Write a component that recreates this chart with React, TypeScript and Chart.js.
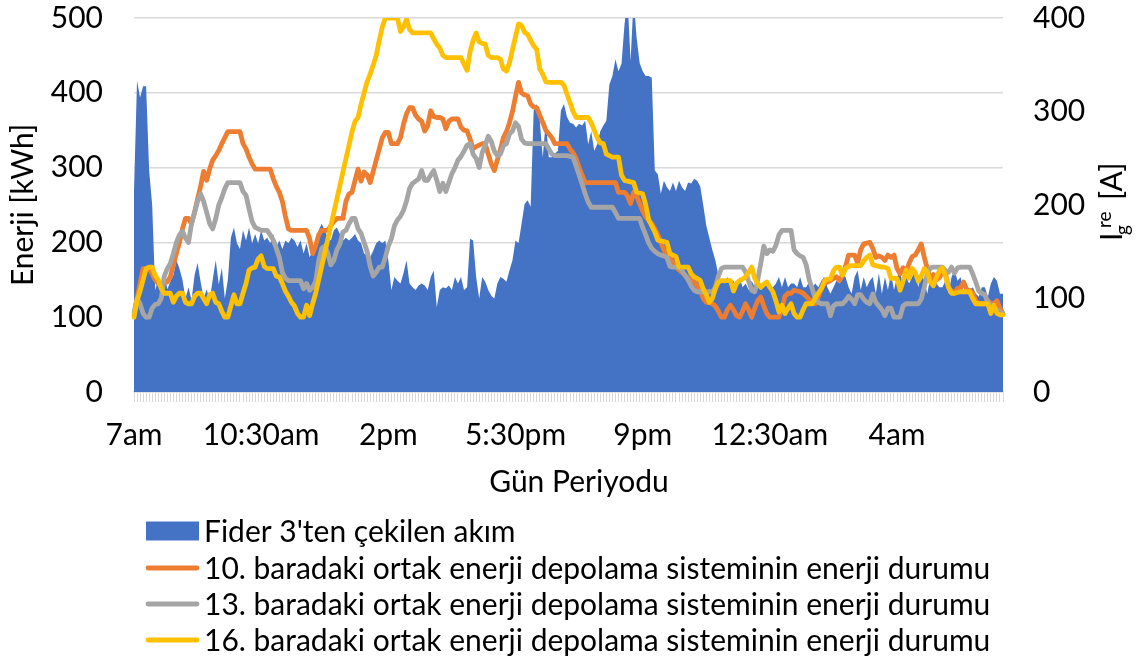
import React, { useEffect, useRef } from 'react';
import { Chart, registerables } from 'chart.js';

Chart.register(...registerables);

// 5-minute steps, 07:00 -> 06:55 next day
const CATEGORIES: string[] = Array.from({ length: 288 }, (_, i) => {
  const m = (7 * 60 + i * 5) % (24 * 60);
  const h = Math.floor(m / 60);
  const mm = m % 60;
  return `${h}:${mm < 10 ? '0' : ''}${mm}`;
});

const TICK_LABELS = ['7am', '10:30am', '2pm', '5:30pm', '9pm', '12:30am', '4am'];
const TICK_EVERY = 42;

const SERIES_NAMES = [
  "Fider 3'ten çekilen akım",
  '10. baradaki ortak enerji depolama sisteminin enerji durumu',
  '13. baradaki ortak enerji depolama sisteminin enerji durumu',
  '16. baradaki ortak enerji depolama sisteminin enerji durumu',
];

// Fider 3 current [A] (right axis)
const FEEDER_CURRENT = [
  215, 333, 315, 327, 327, 237, 200, 109, 120, 105, 128, 110,
  118, 125, 141, 132, 120, 100, 112, 98, 125, 138, 118, 100,
  110, 98, 120, 141, 115, 133, 100, 120, 165, 176, 159, 153,
  173, 162, 176, 159, 169, 159, 173, 162, 165, 159, 169, 155,
  162, 153, 162, 159, 165, 162, 155, 162, 148, 159, 144, 151,
  159, 173, 180, 173, 165, 162, 173, 176, 169, 162, 165, 162,
  165, 169, 162, 159, 148, 146, 144, 151, 159, 162, 159, 162,
  141, 109, 123, 119, 116, 127, 141, 116, 112, 109, 114, 116,
  114, 109, 123, 130, 91, 109, 112, 111, 114, 109, 123, 116,
  123, 109, 112, 164, 162, 123, 100, 123, 118, 109, 103, 100,
  116, 123, 121, 118, 130, 141, 162, 159, 180, 201, 205, 198,
  301, 308, 290, 251, 290, 251, 251, 255, 258, 301, 308, 294,
  288, 287, 283, 287, 285, 290, 265, 279, 258, 265, 279, 285,
  290, 329, 338, 356, 343, 351, 393, 420, 354, 420, 379, 352,
  343, 338, 338, 336, 237, 233, 212, 226, 219, 215, 224, 215,
  226, 219, 215, 224, 223, 228, 226, 220, 200, 178, 165, 152,
  141, 125, 118, 116, 123, 116, 119, 112, 123, 112, 116, 109,
  119, 112, 116, 109, 112, 119, 109, 112, 116, 123, 112, 123,
  112, 116, 116, 112, 123, 112, 112, 118, 112, 116, 112, 119,
  123, 112, 105, 112, 119, 116, 127, 123, 112, 105, 123, 130,
  109, 123, 112, 119, 123, 105, 127, 105, 123, 109, 127, 109,
  123, 130, 112, 123, 116, 123, 130, 112, 127, 119, 105, 123,
  127, 116, 112, 112, 119, 105, 123, 130, 119, 123, 105, 112,
  109, 112, 105, 102, 112, 112, 102, 116, 123, 119, 105, 105,
];

// Energy state of storage at bus 10 [kWh] (left axis)
const ESS_BUS10 = [
  103, 125, 145, 165, 165, 165, 158, 150, 145, 145, 147, 147,
  154, 170, 185, 200, 218, 232, 232, 225, 240, 258, 275, 295,
  283, 298, 310, 316, 323, 332, 340, 348, 348, 348, 348, 348,
  332, 325, 314, 305, 298, 298, 298, 298, 298, 298, 285, 275,
  267, 255, 235, 218, 216, 216, 216, 216, 216, 216, 205, 185,
  195, 210, 216, 216, 216, 222, 228, 232, 232, 232, 255, 265,
  267, 283, 298, 282, 294, 290, 280, 295, 310, 325, 340, 347,
  347, 332, 332, 332, 340, 358, 372, 380, 380, 370, 365, 362,
  349, 356, 376, 368, 367, 367, 365, 352, 362, 365, 365, 365,
  354, 350, 349, 338, 325, 328, 330, 332, 332, 318, 305, 296,
  310, 324, 340, 348, 360, 375, 395, 414, 400, 397, 396, 385,
  381, 380, 370, 360, 350, 345, 340, 332, 332, 332, 332, 332,
  325, 320, 312, 300, 290, 280, 280, 280, 280, 280, 280, 280,
  280, 280, 280, 280, 267, 267, 267, 262, 252, 267, 262, 252,
  242, 234, 230, 225, 218, 210, 200, 190, 183, 180, 172, 167,
  163, 160, 156, 152, 150, 148, 142, 136, 125, 120, 120, 118,
  115, 108, 100, 100, 110, 116, 110, 102, 100, 108, 118, 110,
  100, 112, 122, 127, 115, 105, 100, 100, 100, 100, 112, 128,
  132, 132, 136, 135, 134, 132, 128, 124, 120, 118, 127, 138,
  145, 147, 149, 152, 154, 149, 156, 168, 183, 183, 183, 172,
  190, 198, 199, 200, 192, 180, 182, 180, 176, 183, 180, 183,
  165, 158, 166, 160, 172, 181, 183, 190, 198, 180, 165, 150,
  157, 150, 153, 160, 158, 140, 135, 132, 139, 140, 147, 137,
  136, 132, 122, 118, 118, 118, 122, 118, 118, 122, 112, 105,
];

// Energy state of storage at bus 13 [kWh]
const ESS_BUS13 = [
  105, 125, 118, 105, 100, 100, 112, 117, 118, 125, 155, 165,
  172, 185, 200, 210, 215, 206, 200, 225, 240, 255, 265, 255,
  240, 225, 218, 232, 250, 260, 272, 280, 280, 280, 280, 280,
  268, 263, 245, 228, 220, 218, 216, 216, 216, 210, 203, 192,
  180, 160, 152, 149, 149, 149, 149, 149, 138, 145, 136, 140,
  148, 175, 192, 195, 186, 170, 176, 190, 198, 214, 216, 225,
  232, 232, 218, 212, 200, 188, 168, 155, 160, 167, 167, 180,
  195, 205, 222, 230, 235, 243, 255, 272, 279, 282, 285, 296,
  283, 283, 290, 296, 283, 268, 279, 268, 280, 292, 300, 310,
  315, 322, 330, 332, 318, 312, 300, 320, 330, 342, 335, 322,
  316, 318, 329, 332, 345, 349, 360, 355, 338, 333, 332, 332,
  332, 332, 332, 332, 332, 325, 318, 316, 316, 316, 316, 316,
  315, 314, 302, 290, 278, 265, 254, 247, 247, 247, 247, 247,
  247, 247, 247, 240, 232, 232, 232, 232, 232, 232, 232, 232,
  220, 210, 199, 192, 188, 185, 183, 182, 180, 168, 167, 167,
  167, 162, 156, 150, 142, 136, 134, 134, 134, 134, 134, 134,
  140, 155, 165, 167, 167, 167, 167, 167, 167, 167, 160, 148,
  136, 134, 150, 172, 195, 185, 190, 188, 196, 210, 216, 216,
  216, 216, 190, 185, 182, 180, 170, 150, 138, 125, 120, 118,
  118, 118, 102, 115, 118, 118, 118, 122, 128, 124, 118, 130,
  130, 124, 120, 118, 131, 120, 115, 110, 102, 112, 112, 100,
  100, 100, 115, 118, 118, 118, 118, 118, 124, 140, 158, 166,
  167, 167, 167, 167, 162, 160, 167, 159, 166, 167, 167, 167,
  167, 158, 147, 135, 132, 130, 120, 116, 113, 110, 107, 105,
];

// Energy state of storage at bus 16 [kWh]
const ESS_BUS16 = [
  100, 122, 135, 150, 165, 167, 167, 156, 150, 138, 132, 132,
  132, 120, 128, 132, 132, 120, 118, 118, 128, 132, 132, 125,
  118, 130, 132, 120, 118, 108, 100, 100, 115, 130, 118, 118,
  132, 145, 163, 166, 167, 178, 182, 168, 165, 165, 165, 155,
  154, 145, 135, 128, 120, 115, 105, 100, 100, 116, 102, 118,
  132, 150, 168, 186, 204, 222, 240, 258, 276, 294, 312, 330,
  348, 362, 367, 385, 400, 415, 425, 437, 450, 470, 488, 500,
  500, 500, 500, 500, 482, 488, 498, 485, 480, 480, 480, 480,
  480, 480, 480, 472, 465, 460, 450, 447, 447, 447, 447, 447,
  447, 438, 430, 455, 470, 480, 468, 466, 465, 450, 447, 447,
  447, 445, 432, 429, 440, 458, 475, 492, 490, 481, 478, 470,
  463, 458, 432, 425, 415, 414, 414, 414, 414, 414, 410, 398,
  387, 375, 367, 367, 367, 367, 367, 360, 350, 340, 333, 332,
  318, 316, 314, 314, 314, 290, 283, 282, 281, 280, 267, 266,
  265, 250, 230, 222, 214, 203, 202, 201, 200, 185, 183, 181,
  167, 167, 167, 167, 158, 154, 152, 149, 138, 130, 120, 125,
  138, 147, 149, 149, 149, 149, 135, 145, 149, 151, 154, 160,
  167, 152, 145, 140, 144, 147, 140, 134, 122, 107, 116, 105,
  112, 118, 105, 100, 100, 110, 118, 118, 118, 126, 132, 138,
  148, 151, 151, 162, 167, 167, 156, 165, 168, 169, 169, 169,
  169, 175, 180, 183, 170, 169, 168, 167, 167, 165, 152, 152,
  152, 136, 148, 163, 152, 165, 160, 148, 155, 165, 160, 147,
  142, 153, 162, 166, 155, 140, 132, 132, 133, 134, 134, 134,
  134, 125, 118, 118, 118, 118, 118, 105, 116, 105, 103, 103,
];

const COLORS = ['#4472C4', '#ED7D31', '#A5A5A5', '#FFC000'];
const FAMILY = 'Lato, "Open Sans", sans-serif';
const FONT_SIZE = 30;

const overlayPlugin = {
  id: 'overlayText',
  afterDraw(chart: any) {
    const ctx: CanvasRenderingContext2D = chart.ctx;
    ctx.save();
    ctx.fillStyle = '#000';

    // X axis title
    ctx.font = `${FONT_SIZE}px ${FAMILY}`;
    ctx.textAlign = 'center';
    ctx.textBaseline = 'middle';
    ctx.fillText('Gün Periyodu', 579, 482);

    // Right axis title: I_g^re [A], rotated
    ctx.save();
    ctx.translate(1122, 241);
    ctx.rotate(-Math.PI / 2);
    ctx.textAlign = 'left';
    ctx.textBaseline = 'alphabetic';
    ctx.font = `${FONT_SIZE}px ${FAMILY}`;
    ctx.fillText('I', 0, 0);
    ctx.font = `19px ${FAMILY}`;
    ctx.fillText('g', 6, 7);
    ctx.fillText('re', 13, -11);
    ctx.font = `${FONT_SIZE}px ${FAMILY}`;
    ctx.fillText('[A]', 41, 0);
    ctx.restore();

    // Legend
    const rows = [531, 568, 604, 640];
    ctx.font = `${FONT_SIZE}px ${FAMILY}`;
    ctx.textAlign = 'left';
    ctx.textBaseline = 'middle';
    rows.forEach((cy, k) => {
      if (k === 0) {
        ctx.fillStyle = COLORS[0];
        ctx.fillRect(146, cy - 9.5, 53, 19);
      } else {
        ctx.strokeStyle = COLORS[k];
        ctx.lineWidth = 4.8;
        ctx.lineCap = 'round';
        ctx.beginPath();
        ctx.moveTo(148, cy);
        ctx.lineTo(197, cy);
        ctx.stroke();
      }
      ctx.fillStyle = '#000';
      ctx.fillText(SERIES_NAMES[k], 204, cy + 1);
    });
    ctx.restore();
  },
};

export default function App() {
  const ref = useRef<HTMLCanvasElement | null>(null);

  useEffect(() => {
    if (!ref.current) return;
    const font = { family: FAMILY, size: FONT_SIZE };
    const lineDs = (k: number, data: number[], order: number) => ({
      label: SERIES_NAMES[k],
      data,
      yAxisID: 'y',
      borderColor: COLORS[k],
      backgroundColor: COLORS[k],
      borderWidth: 4.8,
      pointRadius: 0,
      fill: false,
      tension: 0,
      borderJoinStyle: 'round' as const,
      borderCapStyle: 'round' as const,
      order,
    });
    const chart = new Chart(ref.current, {
      type: 'line',
      data: {
        labels: CATEGORIES,
        datasets: [
          {
            label: SERIES_NAMES[0],
            data: FEEDER_CURRENT,
            yAxisID: 'yR',
            backgroundColor: COLORS[0],
            borderColor: COLORS[0],
            borderWidth: 0,
            pointRadius: 0,
            fill: 'origin',
            tension: 0,
            order: 4,
          } as any,
          lineDs(1, ESS_BUS10, 3),
          lineDs(2, ESS_BUS13, 2),
          lineDs(3, ESS_BUS16, 1),
        ],
      },
      options: {
        responsive: false,
        animation: false,
        devicePixelRatio: 1,
        layout: { padding: { top: 17, bottom: 162, left: 0, right: 0 } },
        plugins: { legend: { display: false }, tooltip: { enabled: false } },
        scales: {
          x: {
            type: 'category',
            offset: false,
            grid: {
              display: true,
              drawOnChartArea: false,
              drawTicks: true,
              tickLength: 10,
              color: '#d9d9d9',
              lineWidth: 1,
            },
            border: { display: true, color: '#d9d9d9', width: 1.5 },
            ticks: {
              autoSkip: false,
              maxRotation: 0,
              minRotation: 0,
              padding: 15,
              color: '#000',
              font,
              callback: (_v: any, i: number) =>
                i % TICK_EVERY === 0 ? TICK_LABELS[i / TICK_EVERY] ?? '' : '',
            },
            afterFit: (s: any) => {
              s.height = 108;
            },
          },
          y: {
            position: 'left',
            min: 0,
            max: 500,
            ticks: { stepSize: 100, padding: 0, color: '#000', font },
            grid: {
              color: '#d9d9d9',
              lineWidth: 1.5,
              drawTicks: true,
              tickLength: 31,
              tickColor: 'rgba(0,0,0,0)',
            },
            border: { display: false },
            title: {
              display: true,
              text: 'Enerji [kWh]',
              color: '#000',
              font,
              padding: { top: 5, bottom: 0 },
            },
            afterFit: (s: any) => {
              s.width = 134;
            },
          },
          yR: {
            position: 'right',
            min: 0,
            max: 400,
            ticks: { stepSize: 100, padding: 0, color: '#000', font },
            grid: {
              drawOnChartArea: false,
              drawTicks: true,
              tickLength: 30,
              tickColor: 'rgba(0,0,0,0)',
            },
            border: { display: false },
            afterFit: (s: any) => {
              s.width = 141;
            },
          },
        },
      } as any,
      plugins: [overlayPlugin],
    });
    return () => chart.destroy();
  }, []);

  return (
    <div style={{ position: 'fixed', left: 0, top: 0, width: 1144, height: 662, background: '#fff' }}>
      <canvas ref={ref} width={1144} height={662} style={{ display: 'block', width: 1144, height: 662 }} />
    </div>
  );
}
